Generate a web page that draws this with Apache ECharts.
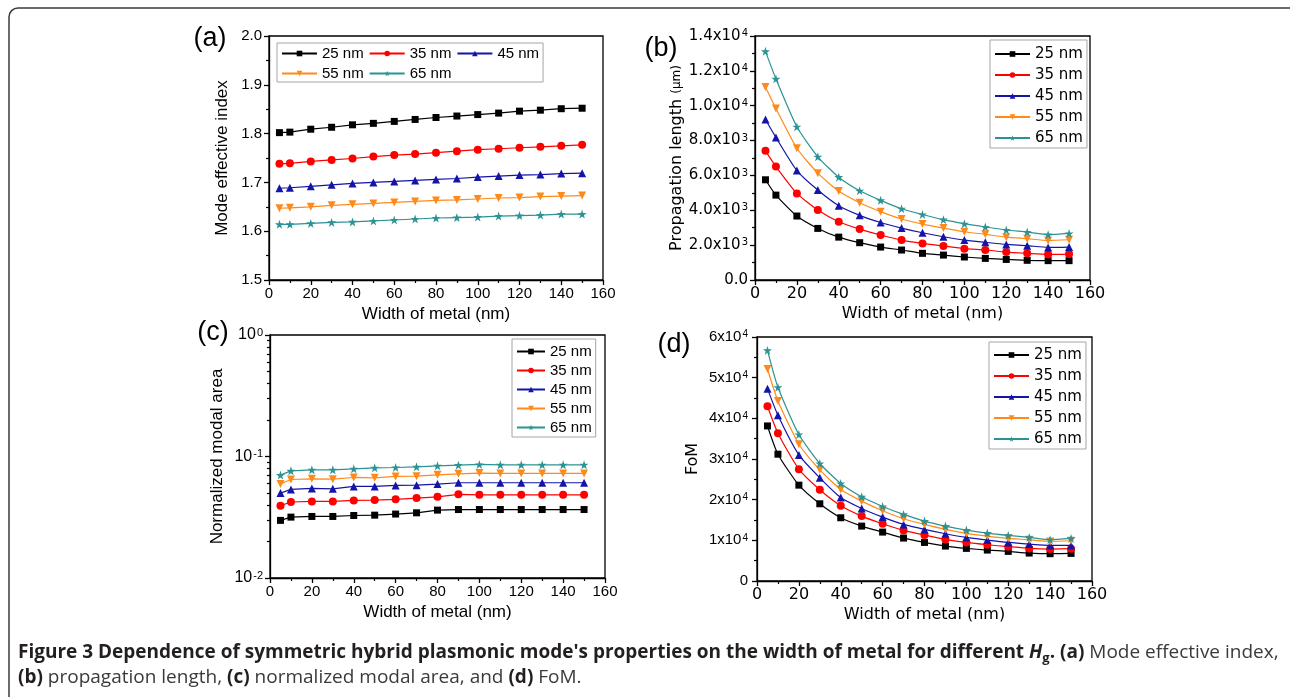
<!DOCTYPE html>
<html>
<head>
<meta charset="utf-8">
<script src="https://cdn.jsdelivr.net/npm/echarts@6/dist/echarts.min.js"></script>
<style>
html,body{margin:0;padding:0;background:#fff;}
#c{width:1290px;height:697px;}
</style>
</head>
<body>
<div id="c"></div>
<script>
// ---------- data ----------
const widths = [5,10,20,30,40,50,60,70,80,90,100,110,120,130,140,150];
const seriesNames = ['25 nm','35 nm','45 nm','55 nm','65 nm'];
const xTicks = [0,20,40,60,80,100,120,140,160];

// (a) mode effective index
const neff25 = [1.802,1.803,1.809,1.813,1.818,1.821,1.825,1.829,1.833,1.836,1.839,1.842,1.846,1.848,1.851,1.852];
const neff35 = [1.738,1.739,1.743,1.746,1.749,1.753,1.756,1.758,1.761,1.764,1.767,1.769,1.771,1.773,1.775,1.777];
const neff45 = [1.688,1.689,1.692,1.695,1.698,1.700,1.702,1.704,1.706,1.708,1.711,1.713,1.715,1.716,1.718,1.719];
const neff55 = [1.647,1.648,1.650,1.653,1.655,1.657,1.659,1.661,1.663,1.664,1.666,1.668,1.669,1.671,1.672,1.673];
const neff65 = [1.614,1.614,1.616,1.618,1.619,1.621,1.623,1.625,1.627,1.628,1.629,1.631,1.632,1.633,1.635,1.635];

// (b) propagation length (um)
const lp25 = [5750,4870,3670,2960,2460,2140,1890,1720,1530,1430,1320,1240,1180,1130,1110,1110];
const lp35 = [7410,6510,4970,4010,3340,2920,2580,2290,2100,1950,1800,1720,1600,1530,1470,1490];
const lp45 = [9210,8180,6280,5160,4260,3710,3300,2980,2710,2480,2290,2160,2040,1970,1870,1890];
const lp55 = [11080,9840,7560,6130,5100,4430,3920,3500,3210,2980,2770,2620,2460,2370,2270,2310];
const lp65 = [13120,11540,8790,7070,5900,5120,4570,4090,3760,3460,3230,3040,2870,2750,2600,2670];

// (c) normalized modal area
const area25 = [0.0298,0.0317,0.0321,0.0321,0.0327,0.0329,0.0336,0.0344,0.0362,0.0366,0.0366,0.0366,0.0366,0.0366,0.0366,0.0366];
const area35 = [0.0394,0.0422,0.0427,0.0427,0.0435,0.0438,0.0444,0.0455,0.0466,0.0488,0.0484,0.0484,0.0484,0.0484,0.0484,0.0484];
const area45 = [0.0500,0.0536,0.0546,0.0542,0.0567,0.0567,0.0578,0.0581,0.0593,0.0608,0.0608,0.0608,0.0608,0.0608,0.0608,0.0608];
const area55 = [0.0593,0.0647,0.0655,0.0651,0.0672,0.0668,0.0685,0.0689,0.0707,0.0720,0.0730,0.0725,0.0725,0.0725,0.0725,0.0725];
const area65 = [0.0703,0.0762,0.0777,0.0777,0.0792,0.0807,0.0812,0.0822,0.0838,0.0849,0.0860,0.0854,0.0854,0.0854,0.0854,0.0854];
const areaMajorTicks = [0.01,0.1,1];
const areaMinorTicks = [0.02,0.03,0.04,0.05,0.06,0.07,0.08,0.09,0.2,0.3,0.4,0.5,0.6,0.7,0.8,0.9];

// (d) FoM
const fom25 = [38130,31180,23570,18990,15550,13500,12030,10560,9490,8590,8020,7610,7280,6870,6710,6790];
const fom35 = [42960,36330,27500,22420,18490,15960,14080,12440,11290,10230,9490,8920,8430,8020,7860,7940];
const fom45 = [47300,40750,31010,25370,20540,17840,15710,13910,12680,11620,10720,10070,9490,9080,8760,8760];
const fom55 = [52130,44270,33630,27330,22500,19640,17270,15300,13910,12680,11700,11050,10470,10150,9740,9900];
const fom65 = [56710,47630,36010,28890,23980,20700,18330,16370,14730,13500,12520,11780,11210,10720,10150,10470];

// ---------- styles ----------
const colors = ['#000000','#ff0000','#1414a8','#ff8a1a','#2b9393'];
const STAR = 'path://M5,0 L6.18,3.62 L10,3.62 L6.91,5.86 L8.09,9.51 L5,7.24 L1.91,9.51 L3.09,5.86 L0,3.62 L3.82,3.62 Z';
const DOWN = 'path://M0,0 L10,0 L5,9 Z';
const symbols = ['rect','circle','triangle',DOWN,STAR];
const symSizes = [7,8,8,8,9];
const ARIAL = '"Liberation Sans"';
const WIDE = '"DejaVu Sans"';
const CAP = '"Open Sans"';

const supRich = (fs, font) => ({ sup: { fontFamily: font, fontSize: Math.round(fs*0.66), verticalAlign: 'top', lineHeight: 10, padding:[0,0,0,1] } });

function xAxis(gi, font, fs, nameFs) {
  return {
    type: 'value', gridIndex: gi, min: 0, max: 160, interval: 20,
    name: 'Width of metal (nm)', nameLocation: 'middle', nameGap: 26,
    nameTextStyle: { fontFamily: font, fontSize: nameFs, color: '#000' },
    axisLine: { show: true, lineStyle: { color: '#000', width: 1.3 } },
    axisTick: { show: true, inside: false, length: 5, lineStyle: { color: '#000', width: 1.3 } },
    minorTick: { show: true, splitNumber: 2, length: 3, lineStyle: { color: '#000', width: 1.2 } },
    axisLabel: { fontFamily: font, fontSize: fs, color: '#000', margin: 6 },
    splitLine: { show: false }
  };
}
function baseY(gi, font, fs, nameFs, name, gap) {
  return {
    gridIndex: gi, name: name, nameLocation: 'middle', nameGap: gap,
    nameTextStyle: { fontFamily: font, fontSize: nameFs, color: '#000', rich: { s: { fontFamily: font, fontSize: Math.round(nameFs*0.75) } } },
    axisLine: { show: true, lineStyle: { color: '#000', width: 1.3 } },
    axisTick: { show: true, inside: false, length: 5, lineStyle: { color: '#000', width: 1.3 } },
    minorTick: { show: true, splitNumber: 2, length: 3, lineStyle: { color: '#000', width: 1.2 } },
    axisLabel: { fontFamily: font, fontSize: fs, color: '#000', margin: 7, rich: supRich(fs, font) },
    splitLine: { show: false }
  };
}

const yA = Object.assign(baseY(0, ARIAL, 15, 17, 'Mode effective index', 38), {
  type: 'value', min: 1.5, max: 2.0, interval: 0.1
});
yA.axisLabel.formatter = v => v.toFixed(1);

const yB = Object.assign(baseY(1, WIDE, 15, 16, 'Propagation length {s|(μm)}', 66), {
  type: 'value', min: 0, max: 14000, interval: 2000
});
yB.axisLabel.formatter = v => {
  if (v === 0) return '0.0';
  const e = Math.floor(Math.log10(v) + 1e-9);
  return (v / Math.pow(10, e)).toFixed(1) + 'x10{sup|' + e + '}';
};

const yC = Object.assign(baseY(2, ARIAL, 16, 17, 'Normalized modal area', 44), {
  type: 'log', min: 0.01, max: 1, logBase: 10
});
yC.minorTick = { show: false };
yC.axisTick.customValues = areaMajorTicks;
yC.axisLabel.customValues = areaMajorTicks;
yC.axisLabel.formatter = v => '10{sup|' + Math.round(Math.log10(v)) + '}';
const yCminor = {
  type: 'log', gridIndex: 2, min: 0.01, max: 1, logBase: 10, position: 'left',
  axisLine: { show: false }, axisLabel: { show: false }, splitLine: { show: false },
  axisTick: { show: true, inside: false, length: 3, customValues: areaMinorTicks, lineStyle: { color: '#000', width: 1.2 } }
};

const yD = Object.assign(baseY(3, ARIAL, 15, 16, 'FoM', 56), {
  type: 'value', min: 0, max: 60000, interval: 10000
});
yD.nameTextStyle.fontFamily = WIDE;
yD.axisLabel.margin = 9;
yD.axisLabel.formatter = v => {
  if (v === 0) return '0';
  return (v / 10000) + 'x10{sup|4}';
};

const panels = [
  { data: [neff25,neff35,neff45,neff55,neff65], smooth: false, y: 0 },
  { data: [lp25,lp35,lp45,lp55,lp65], smooth: 0.2, y: 1 },
  { data: [area25,area35,area45,area55,area65], smooth: false, y: 2 },
  { data: [fom25,fom35,fom45,fom55,fom65], smooth: 0.2, y: 4 }
];

const series = [];
panels.forEach((p, pi) => {
  p.data.forEach((arr, si) => {
    series.push({
      type: 'line', name: seriesNames[si], xAxisIndex: pi, yAxisIndex: p.y,
      data: widths.map((w, i) => [w, arr[i]]),
      smooth: p.smooth,
      symbol: symbols[si], symbolSize: symSizes[si], showSymbol: true,
      lineStyle: { color: colors[si], width: 1.2 },
      itemStyle: { color: colors[si] },
      emphasis: { disabled: true }, animation: false, z: 2 + si
    });
  });
});

function legend(opts) {
  return Object.assign({
    data: seriesNames, itemWidth: 35, itemHeight: 7, itemGap: 4,
    borderColor: '#a5a5a5', borderWidth: 1, backgroundColor: '#fff',
    padding: [3, 4], selectedMode: false, inactiveColor: '#000',
    textStyle: { fontFamily: ARIAL, fontSize: 15, color: '#000', lineHeight: 14 }
  }, opts);
}

const legends = [
  legend({ left: 277, top: 43, orient: 'horizontal', width: 262, itemGap: 5, padding: [3,4,1,4], textStyle: { fontFamily: ARIAL, fontSize: 15, color: '#000', lineHeight: 14 } }),
  legend({ left: 990, top: 40, orient: 'vertical', itemGap: 5, padding: [6,4,2,4], textStyle: { fontFamily: WIDE, fontSize: 15, color: '#000', lineHeight: 16 } }),
  legend({ left: 512, top: 339, orient: 'vertical', itemWidth: 28, itemGap: 4, padding: [5,4,2,4], textStyle: { fontFamily: ARIAL, fontSize: 15, color: '#000', lineHeight: 15 } }),
  legend({ left: 989, top: 342, orient: 'vertical', itemGap: 5, padding: [5,4,2,4], textStyle: { fontFamily: WIDE, fontSize: 15, color: '#000', lineHeight: 16 } })
];

const gridStyle = { show: true, borderColor: '#000', borderWidth: 1.3, backgroundColor: 'transparent', containLabel: false };
const grids = [
  Object.assign({ left: 269, top: 36, width: 334, height: 244 }, gridStyle),
  Object.assign({ left: 755, top: 36, width: 335, height: 244 }, gridStyle),
  Object.assign({ left: 270, top: 335, width: 335, height: 243 }, gridStyle),
  Object.assign({ left: 757, top: 337, width: 335, height: 244 }, gridStyle)
];

const panelLabel = (t, x, y) => ({
  type: 'text', x: x, y: y, silent: true,
  style: { text: t, fontFamily: ARIAL, fontSize: 27, fill: '#000', align: 'center', verticalAlign: 'middle' }
});

const caption = {
  type: 'text', x: 18, y: 640, silent: true,
  style: {
    text: "{b|Figure 3 Dependence of symmetric hybrid plasmonic mode's properties on the width of metal for different }{bi|H}{bsub|g}{b|. (a)}{n| Mode effective index,}\n" +
          "{b|(b)}{n| propagation length, }{b|(c)}{n| normalized modal area, and }{b|(d)}{n| FoM.}",
    rich: {
      b: { fontFamily: CAP, fontWeight: 'bold', fontSize: 19, fill: '#231f20', lineHeight: 25 },
      bi: { fontFamily: CAP, fontWeight: 'bold', fontStyle: 'italic', fontSize: 19, fill: '#231f20', lineHeight: 25 },
      bsub: { fontFamily: CAP, fontWeight: 'bold', fontSize: 13, fill: '#231f20', verticalAlign: 'bottom', lineHeight: 19 },
      n: { fontFamily: CAP, fontSize: 19, fill: '#3a3a3a', lineHeight: 25 }
    }
  }
};

const frame = {
  type: 'rect', silent: true, z: 0,
  shape: { x: 9, y: 8, width: 1290, height: 700, r: 9 },
  style: { fill: 'none', stroke: '#3a3a3a', lineWidth: 1.5 }
};

const chart = echarts.init(document.getElementById('c'), null, { renderer: 'canvas' });
chart.setOption({
  animation: false,
  backgroundColor: '#fff',
  grid: grids,
  xAxis: [xAxis(0, ARIAL, 15, 17), xAxis(1, WIDE, 16, 16), xAxis(2, ARIAL, 15, 17), xAxis(3, WIDE, 16, 16)],
  yAxis: [yA, yB, yC, yCminor, yD],
  legend: legends,
  series: series,
  graphic: [frame, panelLabel('(a)', 210, 39), panelLabel('(b)', 661, 49), panelLabel('(c)', 213, 333), panelLabel('(d)', 674, 345), caption]
});
</script>
</body>
</html>
